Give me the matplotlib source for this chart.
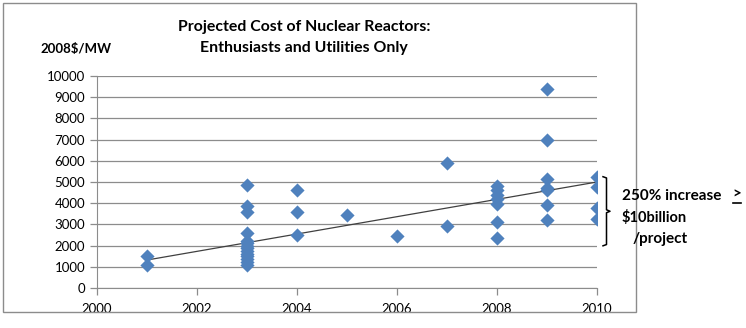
import numpy as np
import matplotlib.pyplot as plt
from matplotlib.patches import Rectangle

# projected overnight cost per MW, by year of estimate
yr_2001 = [1490, 1070]
yr_2003 = [4870, 3880, 3580, 2600, 2230, 2120, 2000, 1880, 1750, 1620, 1500, 1380, 1250, 1100]
yr_2004 = [4630, 3580, 2500]
yr_2005 = [3420]
yr_2006 = [2430]
yr_2007 = [5900, 2920]
yr_2008 = [4800, 4600, 4400, 4200, 3950, 3100, 2350]
yr_2009 = [9380, 7000, 5130, 4700, 4600, 3920, 3220]
yr_2010 = [5220, 4760, 3790, 3260]

groups = {2001: yr_2001, 2003: yr_2003, 2004: yr_2004, 2005: yr_2005, 2006: yr_2006,
          2007: yr_2007, 2008: yr_2008, 2009: yr_2009, 2010: yr_2010}
years = np.array([y for y, vals in groups.items() for _ in vals])
costs = np.array([v for vals in groups.values() for v in vals])

# linear trend line end points
trend_x = [2001, 2010]
trend_y = [1320, 5000]

xticks = [2000, 2002, 2004, 2006, 2008, 2010]
yticks = list(range(0, 10001, 1000))

plt.rcParams['font.family'] = ['Lato', 'DejaVu Sans']

fig = plt.figure(figsize=(7.46, 3.28), dpi=100)
ax = fig.add_axes([97/746, 1 - 288/328, 500/746, 212/328])

ax.scatter(years, costs, marker='D', s=52, color='#4F81BD', zorder=3, linewidths=0)
ax.plot(trend_x, trend_y, color='#404040', lw=0.9, zorder=2)

ax.set_xlim(2000, 2010)
ax.set_ylim(0, 10000)
ax.set_xticks(xticks)
ax.set_yticks(yticks)
ax.grid(axis='y', color='#8C8C8C', lw=0.9)
ax.set_axisbelow(True)
for s in ['top', 'right']:
    ax.spines[s].set_visible(False)
for s in ['left', 'bottom']:
    ax.spines[s].set_color('#8C8C8C')
ax.tick_params(colors='#8C8C8C', labelcolor='black', labelsize=9.5, length=5, width=0.9)
ax.tick_params(axis='x', pad=6)

# bracket beside the 2010 points
bx = [2010.12, 2010.19, 2010.19, 2010.26, 2010.19, 2010.19, 2010.12]
by = [5250, 5190, 3690, 3620, 3550, 2050, 1990]
ax.plot(bx, by, color='black', lw=1.1, clip_on=False)

fig.text(304/746, 1 - 27/328, 'Projected Cost of Nuclear Reactors:', ha='center', va='center',
         fontsize=11.4, fontweight='bold')
fig.text(304/746, 1 - 48/328, 'Enthusiasts and Utilities Only', ha='center', va='center',
         fontsize=11.4, fontweight='bold')
fig.text(40/746, 1 - 49/328, '2008$/MW', ha='left', va='center', fontsize=9.5, fontweight='bold')

fig.text(622/746, 1 - 196/328, '250% increase', ha='left', va='center', fontsize=11, fontweight='bold')
fig.text(737/746, 1 - 195/328, '>', ha='center', va='center', fontsize=11, fontweight='bold')
fig.add_artist(plt.Line2D([733/746, 741/746], [1 - 203/328, 1 - 203/328], color='black', lw=1.2))
fig.text(622/746, 1 - 217/328, '$10billion', ha='left', va='center', fontsize=10.5, fontweight='bold')
fig.text(633/746, 1 - 239/328, '/project', ha='left', va='center', fontsize=11, fontweight='bold')

# chart frame
fig.patches.append(Rectangle((3/746, 1 - 312/328), 633/746, 309/328, transform=fig.transFigure,
                             fill=False, edgecolor='#8C8C8C', lw=1))

fig.savefig('out.png', dpi=100)
